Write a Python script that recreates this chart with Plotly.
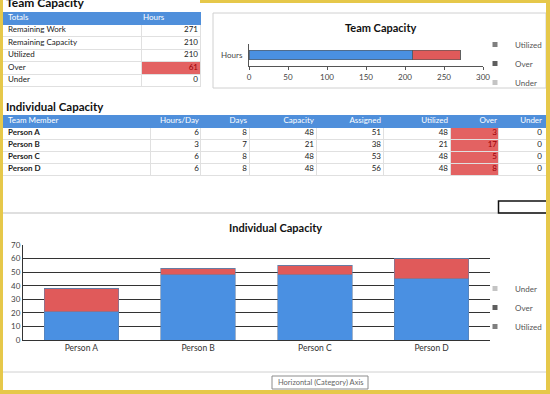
import plotly.graph_objects as go

W, H = 550, 394


def px(x):
    return x / W


def py(y):
    return 1 - y / H


# ---------------- data ----------------
totals_headers = ["Totals", "Hours"]
totals_labels = ["Remaining Work", "Remaining Capacity", "Utilized", "Over", "Under"]
totals_hours = [271, 210, 210, 61, 0]

team_series = ["Utilized", "Over", "Under"]
team_hours = [210, 61, 0]
team_category = ["Hours"]

table_headers = ["Team Member", "Hours/Day", "Days", "Capacity", "Assigned", "Utilized", "Over", "Under"]
members = ["Person A", "Person B", "Person C", "Person D"]
hours_per_day = [6, 3, 6, 6]
days = [8, 7, 8, 8]
capacity = [48, 21, 48, 48]
assigned = [51, 38, 53, 56]
utilized = [48, 21, 48, 48]
over = [3, 17, 5, 8]
under = [0, 0, 0, 0]

chart_members = ["Person A", "Person B", "Person C", "Person D"]
chart_utilized = [21, 48, 48, 45]
chart_over = [17, 5, 7, 15]
chart_under = [0, 0, 0, 0]

# ---------------- styles ----------------
FONT = "Lato"
HDR_BLUE = "#4F8FDB"
BAR_BLUE = "#4A90E2"
BAR_RED = "#E05A5A"
CELL_RED = "#E36262"
DARK_RED = "#9C0006"
YELLOW = "#E6C84A"
WHITE = "#FFFFFF"
CLEAR = "rgba(0,0,0,0)"
LINE = "#E0E0E0"
TXT = "#222222"
TEXT_SHIFT = 6  # plotly table draws text below the cell centre; a text layer sits higher


def add_table(fig, top, header_h, row_h, fill_x, fill_widths, text_x, text_widths,
              headers, columns, header_align, cell_align, fill_cols, font_cols, weight_cols):
    nrows = len(columns[0])
    bottom = top + header_h + nrows * row_h + 3
    ncols = len(columns)
    # cell backgrounds and rules
    fig.add_trace(go.Table(
        domain=dict(x=[px(fill_x[0]), px(fill_x[1])], y=[py(bottom), py(top)]),
        columnwidth=fill_widths,
        header=dict(values=[""] * ncols, fill_color=HDR_BLUE, line=dict(color=HDR_BLUE, width=1),
                    height=header_h),
        cells=dict(values=[[""] * nrows for _ in range(ncols)], fill_color=fill_cols,
                   line=dict(color=LINE, width=1), height=row_h),
        hoverinfo="skip",
    ))
    # cell texts
    fig.add_trace(go.Table(
        domain=dict(x=[px(text_x[0]), px(text_x[1])],
                    y=[py(bottom - TEXT_SHIFT), py(top - TEXT_SHIFT)]),
        columnwidth=text_widths,
        header=dict(values=headers, fill_color=CLEAR, line=dict(color=CLEAR, width=0),
                    font=dict(family=FONT, size=8, color=WHITE), align=header_align, height=header_h),
        cells=dict(values=columns, fill_color=CLEAR, line=dict(color=CLEAR, width=0),
                   font=dict(family=FONT, size=8, color=font_cols, weight=weight_cols),
                   align=cell_align, height=row_h),
        hoverinfo="skip",
    ))


fig = go.Figure()

# ---- Table 1: team totals ----
nt = len(totals_labels)
add_table(
    fig, top=12, header_h=12, row_h=12.5,
    fill_x=(0, 200), fill_widths=[141, 59],
    text_x=(0, 206), text_widths=[135, 71],
    headers=totals_headers, columns=[totals_labels, totals_hours],
    header_align=["left", "left"], cell_align=["left", "right"],
    fill_cols=[[WHITE] * nt, [CELL_RED if l == "Over" else WHITE for l in totals_labels]],
    font_cols=[[TXT] * nt, [DARK_RED if l == "Over" else TXT for l in totals_labels]],
    weight_cols=["normal", "normal"],
)

# ---- Table 2: individual capacity ----
n = len(members)
add_table(
    fig, top=115, header_h=12, row_h=12,
    fill_x=(0, 550), fill_widths=[150, 50, 49, 67, 67, 67, 48, 52],
    text_x=(0, 550), text_widths=[150, 57, 48, 67, 67, 67, 49, 45],
    headers=table_headers,
    columns=[members, hours_per_day, days, capacity, assigned, utilized, over, under],
    header_align=["left"] + ["right"] * 7, cell_align=["left"] + ["right"] * 7,
    fill_cols=[[WHITE] * n] * 6 + [[CELL_RED] * n] + [[WHITE] * n],
    font_cols=[[TXT] * n] * 6 + [[DARK_RED] * n] + [[TXT] * n],
    weight_cols=["bold"] + ["normal"] * 7,
)

# ---- Team capacity horizontal stacked bar ----
team_colors = [BAR_BLUE, BAR_RED, "#BBBBBB"]
for name, val, col in zip(team_series, team_hours, team_colors):
    fig.add_trace(go.Bar(
        x=[val], y=team_category, orientation="h", name=name, width=0.45,
        marker=dict(color=col, line=dict(color="#555555", width=0.6)),
        xaxis="x", yaxis="y", showlegend=False, hoverinfo="skip",
    ))

# ---- Individual capacity stacked columns ----
for name, vals, col in [("Utilized", chart_utilized, BAR_BLUE),
                        ("Over", chart_over, BAR_RED),
                        ("Under", chart_under, "#BBBBBB")]:
    fig.add_trace(go.Bar(
        x=chart_members, y=vals, name=name, width=0.64,
        marker=dict(color=col, line=dict(color="#5F7FA8", width=0.6)),
        xaxis="x2", yaxis="y2", showlegend=False, hoverinfo="skip",
    ))

# ---- legends (grey swatches as in the reference) ----
legend_swatch = {"Utilized": "#7F7F7F", "Over": "#5E5E5E", "Under": "#C4C4C4"}
for name in team_series:
    fig.add_trace(go.Scatter(x=[None], y=[None], mode="markers", name=name,
                             marker=dict(symbol="square", size=5, color=legend_swatch[name]),
                             legend="legend", xaxis="x", yaxis="y"))
for name in ["Under", "Over", "Utilized"]:
    fig.add_trace(go.Scatter(x=[None], y=[None], mode="markers", name=name,
                             marker=dict(symbol="square", size=5, color=legend_swatch[name]),
                             legend="legend2", xaxis="x2", yaxis="y2"))

axis_font = dict(family=FONT, size=8, color="#444444")
legend_font = dict(family=FONT, size=8, color="#555555")

fig.update_layout(
    width=W, height=H, margin=dict(l=0, r=0, t=0, b=0, autoexpand=False),
    paper_bgcolor=WHITE, plot_bgcolor=CLEAR,
    font=dict(family=FONT, size=8, color=TXT),
    barmode="stack",
    xaxis=dict(domain=[px(249), px(483)], anchor="y", range=[0, 300], dtick=50,
               showgrid=False, zeroline=False, showline=True, linecolor="#555555", linewidth=1,
               ticks="outside", ticklen=3, tickcolor="#555555", tickfont=axis_font,
               fixedrange=True),
    yaxis=dict(domain=[py(66), py(44)], anchor="x", range=[-0.5, 0.5], type="category",
               showgrid=False, zeroline=False, showline=True, linecolor="#555555", linewidth=1,
               ticks="", tickfont=axis_font, ticklabelstandoff=4, fixedrange=True),
    xaxis2=dict(domain=[px(23), px(490)], anchor="y2", showgrid=False, zeroline=False,
                showline=True, linecolor="#333333", linewidth=1, ticks="",
                tickfont=dict(family=FONT, size=8.5, color="#333333"), fixedrange=True),
    yaxis2=dict(domain=[py(340), py(245)], anchor="x2", range=[0, 70], dtick=10,
                showgrid=True, gridcolor="#333333", gridwidth=1, zeroline=False,
                showline=True, linecolor="#333333", linewidth=1, ticks="",
                tickfont=axis_font, fixedrange=True),
    legend=dict(x=px(475), y=py(30), xanchor="left", yanchor="top", font=legend_font,
                bgcolor=CLEAR, tracegroupgap=0, itemwidth=30, traceorder="normal"),
    legend2=dict(x=px(475), y=py(274), xanchor="left", yanchor="top", font=legend_font,
                 bgcolor=CLEAR, tracegroupgap=0, itemwidth=30, traceorder="normal"),
    showlegend=True,
)

shapes = [
    # team chart frame
    dict(type="rect", xref="paper", yref="paper", x0=px(213), x1=px(546), y0=py(88), y1=py(13),
         line=dict(color="#D0D0D0", width=1), fillcolor=CLEAR, layer="below"),
    # individual chart area borders
    dict(type="line", xref="paper", yref="paper", x0=0, x1=px(546), y0=py(213), y1=py(213),
         line=dict(color="#BFBFBF", width=1)),
    dict(type="line", xref="paper", yref="paper", x0=0, x1=px(546), y0=py(372), y1=py(372),
         line=dict(color="#D0D0D0", width=1)),
    # selected cell
    dict(type="rect", xref="paper", yref="paper", x0=px(498.5), x1=px(549), y0=py(213), y1=py(201),
         line=dict(color="#111111", width=1.5), fillcolor=CLEAR),
    # tooltip box
    dict(type="rect", xref="paper", yref="paper", x0=px(272), x1=px(368), y0=py(389), y1=py(376),
         line=dict(color="#8C8C8C", width=1), fillcolor=WHITE),
    # yellow window frame
    dict(type="rect", xref="paper", yref="paper", x0=0, x1=px(3), y0=0, y1=1,
         line=dict(width=0), fillcolor=YELLOW),
    dict(type="rect", xref="paper", yref="paper", x0=px(546), x1=1, y0=0, y1=1,
         line=dict(width=0), fillcolor=YELLOW),
    dict(type="rect", xref="paper", yref="paper", x0=px(200), x1=1, y0=py(3), y1=1,
         line=dict(width=0), fillcolor=YELLOW),
    dict(type="rect", xref="paper", yref="paper", x0=0, x1=1, y0=0, y1=py(390),
         line=dict(width=0), fillcolor=YELLOW),
]
fig.update_layout(shapes=shapes)

annotations = [
    dict(text="<b>Team Capacity</b>", x=px(4), y=py(3), xanchor="left", yanchor="middle",
         font=dict(family=FONT, size=12, color="#111111")),
    dict(text="<b>Team Capacity</b>", x=px(380), y=py(27), xanchor="center", yanchor="middle",
         font=dict(family=FONT, size=11, color="#111111")),
    dict(text="<b>Individual Capacity</b>", x=px(4), y=py(106), xanchor="left", yanchor="middle",
         font=dict(family=FONT, size=11.5, color="#111111")),
    dict(text="<b>Individual Capacity</b>", x=px(275), y=py(228), xanchor="center", yanchor="middle",
         font=dict(family=FONT, size=11, color="#111111")),
    dict(text="Horizontal (Category) Axis", x=px(320), y=py(382.5), xanchor="center", yanchor="middle",
         font=dict(family=FONT, size=7.5, color="#666666")),
]
for a in annotations:
    a.update(xref="paper", yref="paper", showarrow=False)
fig.update_layout(annotations=annotations)

fig.write_html("out.html", config={"displayModeBar": False},
               post_script="document.body.style.margin='0';document.body.style.overflow='hidden';")
